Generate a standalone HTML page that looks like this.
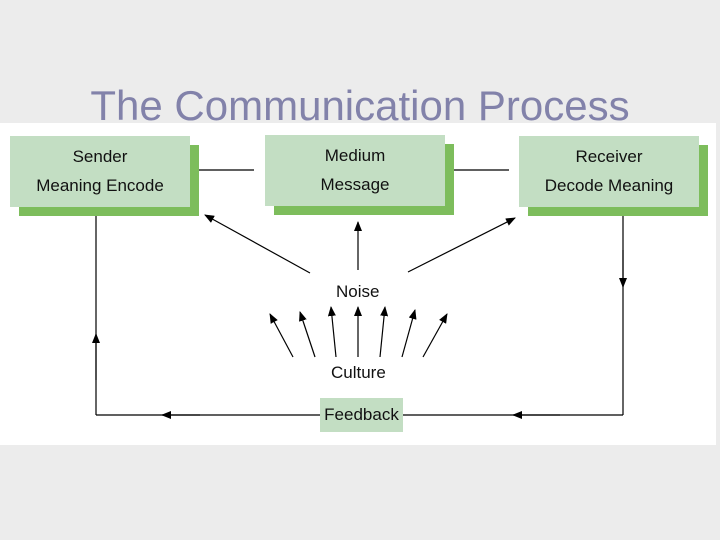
<!DOCTYPE html>
<html><head><style>
body{margin:0;width:720px;height:540px;background:#ececec;position:relative;overflow:hidden;font-family:"Liberation Sans",sans-serif}
.t{position:absolute;left:0;width:720px;top:82px;text-align:center;font-size:42px;color:#8282aa}
.p{position:absolute;left:0;top:123px;width:716px;height:322px;background:#fff}
.b{position:absolute;width:180px;height:71px;background:#c3dec3;text-align:center;font-size:17px;line-height:29px;padding-top:6px;box-sizing:border-box;color:#111}
.s{position:absolute;width:180px;height:71px;background:#7dbd5c}
.l{position:absolute;font-size:17px;color:#111}
</style></head><body>
<div class="t">The Communication Process</div>
<div class="p"></div>
<div class="s" style="left:19px;top:145px"></div><div class="b" style="left:10px;top:136px">Sender<br>Meaning Encode</div>
<div class="s" style="left:274px;top:144px"></div><div class="b" style="left:265px;top:135px">Medium<br>Message</div>
<div class="s" style="left:528px;top:145px"></div><div class="b" style="left:519px;top:136px">Receiver<br>Decode Meaning</div>
<div class="b" style="left:320px;top:398px;width:83px;height:34px;padding-top:2px">Feedback</div>
<div class="l" style="left:336px;top:282px">Noise</div>
<div class="l" style="left:331px;top:363px">Culture</div>
<svg width="720" height="540" style="position:absolute;left:0;top:0">
<defs><marker id="a" markerWidth="10" markerHeight="8" refX="9" refY="4" orient="auto" markerUnits="userSpaceOnUse"><path d="M0,0L10,4L0,8z" fill="#000"/></marker></defs>
<g stroke="#000" stroke-width="1.2" fill="none">
<line x1="199" y1="170" x2="254" y2="170"/><line x1="454" y1="170" x2="509" y2="170"/>
<line x1="310" y1="273" x2="205" y2="215" marker-end="url(#a)"/>
<line x1="358" y1="270" x2="358" y2="222" marker-end="url(#a)"/>
<line x1="408" y1="272" x2="515" y2="218" marker-end="url(#a)"/>
<line x1="96" y1="415" x2="96" y2="216"/><line x1="96" y1="380" x2="96" y2="334" marker-end="url(#a)"/>
<line x1="96" y1="415" x2="320" y2="415"/><line x1="200" y1="415" x2="162" y2="415" marker-end="url(#a)"/>
<line x1="623" y1="216" x2="623" y2="415"/><line x1="623" y1="250" x2="623" y2="287" marker-end="url(#a)"/>
<line x1="623" y1="415" x2="403" y2="415"/><line x1="560" y1="415" x2="513" y2="415" marker-end="url(#a)"/>
<line x1="293" y1="357" x2="270" y2="314" marker-end="url(#a)"/>
<line x1="315" y1="357" x2="300" y2="312" marker-end="url(#a)"/>
<line x1="336" y1="357" x2="331" y2="307" marker-end="url(#a)"/>
<line x1="358" y1="357" x2="358" y2="307" marker-end="url(#a)"/>
<line x1="380" y1="357" x2="385" y2="307" marker-end="url(#a)"/>
<line x1="402" y1="357" x2="415" y2="310" marker-end="url(#a)"/>
<line x1="423" y1="357" x2="447" y2="314" marker-end="url(#a)"/>
</g></svg>
</body></html>
